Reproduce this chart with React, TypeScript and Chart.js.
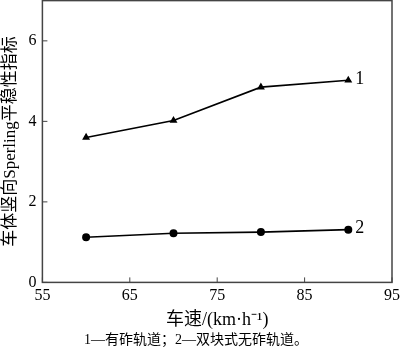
import React, { useEffect, useRef } from "react";
import { Chart, registerables } from "chart.js";

Chart.register(...registerables);

const speeds = [60, 70, 80, 90];
const ballasted = [3.6, 4.02, 4.85, 5.02];
const slabless = [1.12, 1.22, 1.25, 1.31];
const seriesLabels = ["1", "2"];
const xTitle = "车速/(km·h⁻¹)";
const yTitle = "车体竖向Sperling平稳性指标";
const caption = "1—有砟轨道；2—双块式无砟轨道。";

const FONT = "'Liberation Serif', 'Noto Sans CJK SC', serif";

const framePlugin = {
  id: "frame",
  afterDraw(chart: any) {
    const { ctx, chartArea: a, scales } = chart;
    ctx.save();
    ctx.strokeStyle = "#444";
    ctx.lineWidth = 1.5;
    ctx.strokeRect(a.left, a.top, a.right - a.left, a.bottom - a.top);
    ctx.lineWidth = 1;
    const len = 5;
    scales.x.ticks.forEach((t: any) => {
      const px = scales.x.getPixelForValue(t.value);
      ctx.beginPath();
      ctx.moveTo(px, a.bottom);
      ctx.lineTo(px, a.bottom - len);
      ctx.stroke();
    });
    scales.y.ticks.forEach((t: any) => {
      const py = scales.y.getPixelForValue(t.value);
      ctx.beginPath();
      ctx.moveTo(a.left, py);
      ctx.lineTo(a.left + len, py);
      ctx.stroke();
    });
    // end labels
    ctx.fillStyle = "#000";
    ctx.font = "18px " + FONT;
    ctx.textBaseline = "middle";
    ctx.textAlign = "left";
    chart.data.datasets.forEach((ds: any, i: number) => {
      const meta = chart.getDatasetMeta(i);
      const last = meta.data[meta.data.length - 1];
      ctx.fillText(ds.label, last.x + 7, last.y - 1);
    });
    ctx.restore();
  },
};

export default function App() {
  const ref = useRef<HTMLCanvasElement>(null);
  useEffect(() => {
    document.body.style.margin = "0";
    const chart = new Chart(ref.current!, {
      type: "line",
      data: {
        datasets: [
          {
            label: seriesLabels[0],
            data: speeds.map((x, i) => ({ x, y: ballasted[i] })),
            borderColor: "#000",
            backgroundColor: "#000",
            borderWidth: 1.6,
            pointStyle: "triangle",
            pointRadius: 3,
          },
          {
            label: seriesLabels[1],
            data: speeds.map((x, i) => ({ x, y: slabless[i] })),
            borderColor: "#000",
            backgroundColor: "#000",
            borderWidth: 1.6,
            pointStyle: "circle",
            pointRadius: 3.2,
          },
        ],
      },
      options: {
        animation: false,
        responsive: false,
        layout: { padding: { top: 0, right: 8, left: 0, bottom: 2 } },
        plugins: {
          legend: { display: false },
          tooltip: { enabled: false },
          title: {
            display: true,
            position: "bottom",
            text: caption,
            color: "#000",
            font: { family: FONT, size: 14, weight: "normal" },
            padding: { top: 1, bottom: 0 },
          },
        },
        scales: {
          x: {
            type: "linear",
            min: 55,
            max: 95,
            grid: { display: false, drawTicks: false },
            border: { display: false },
            afterFit: (axis: any) => {
              axis.paddingRight = 0;
            },
            ticks: {
              stepSize: 10,
              color: "#000",
              font: { family: FONT, size: 16 },
              padding: 4,
              maxRotation: 0,
            },
            title: {
              display: true,
              text: xTitle,
              color: "#000",
              font: { family: FONT, size: 18, weight: "normal" },
              padding: { top: 0, bottom: 0 },
            },
          },
          y: {
            type: "linear",
            min: 0,
            max: 7,
            grid: { display: false, drawTicks: false },
            border: { display: false },
            afterBuildTicks: (axis: any) => {
              axis.ticks = axis.ticks.filter((t: any) => t.value % 2 === 0);
            },
            afterFit: (axis: any) => {
              axis.paddingTop = 0;
            },
            ticks: {
              stepSize: 2,
              color: "#000",
              font: { family: FONT, size: 16 },
              padding: 6,
            },
            title: {
              display: true,
              text: yTitle,
              color: "#000",
              font: { family: FONT, size: 17 },
              padding: { top: 0, bottom: 2 },
            },
          },
        },
      },
      plugins: [framePlugin],
    });
    return () => chart.destroy();
  }, []);
  return (
    <div style={{ position: "fixed", left: 0, top: -5, width: 400, height: 356 }}>
      <canvas ref={ref} width={400} height={356} />
    </div>
  );
}
